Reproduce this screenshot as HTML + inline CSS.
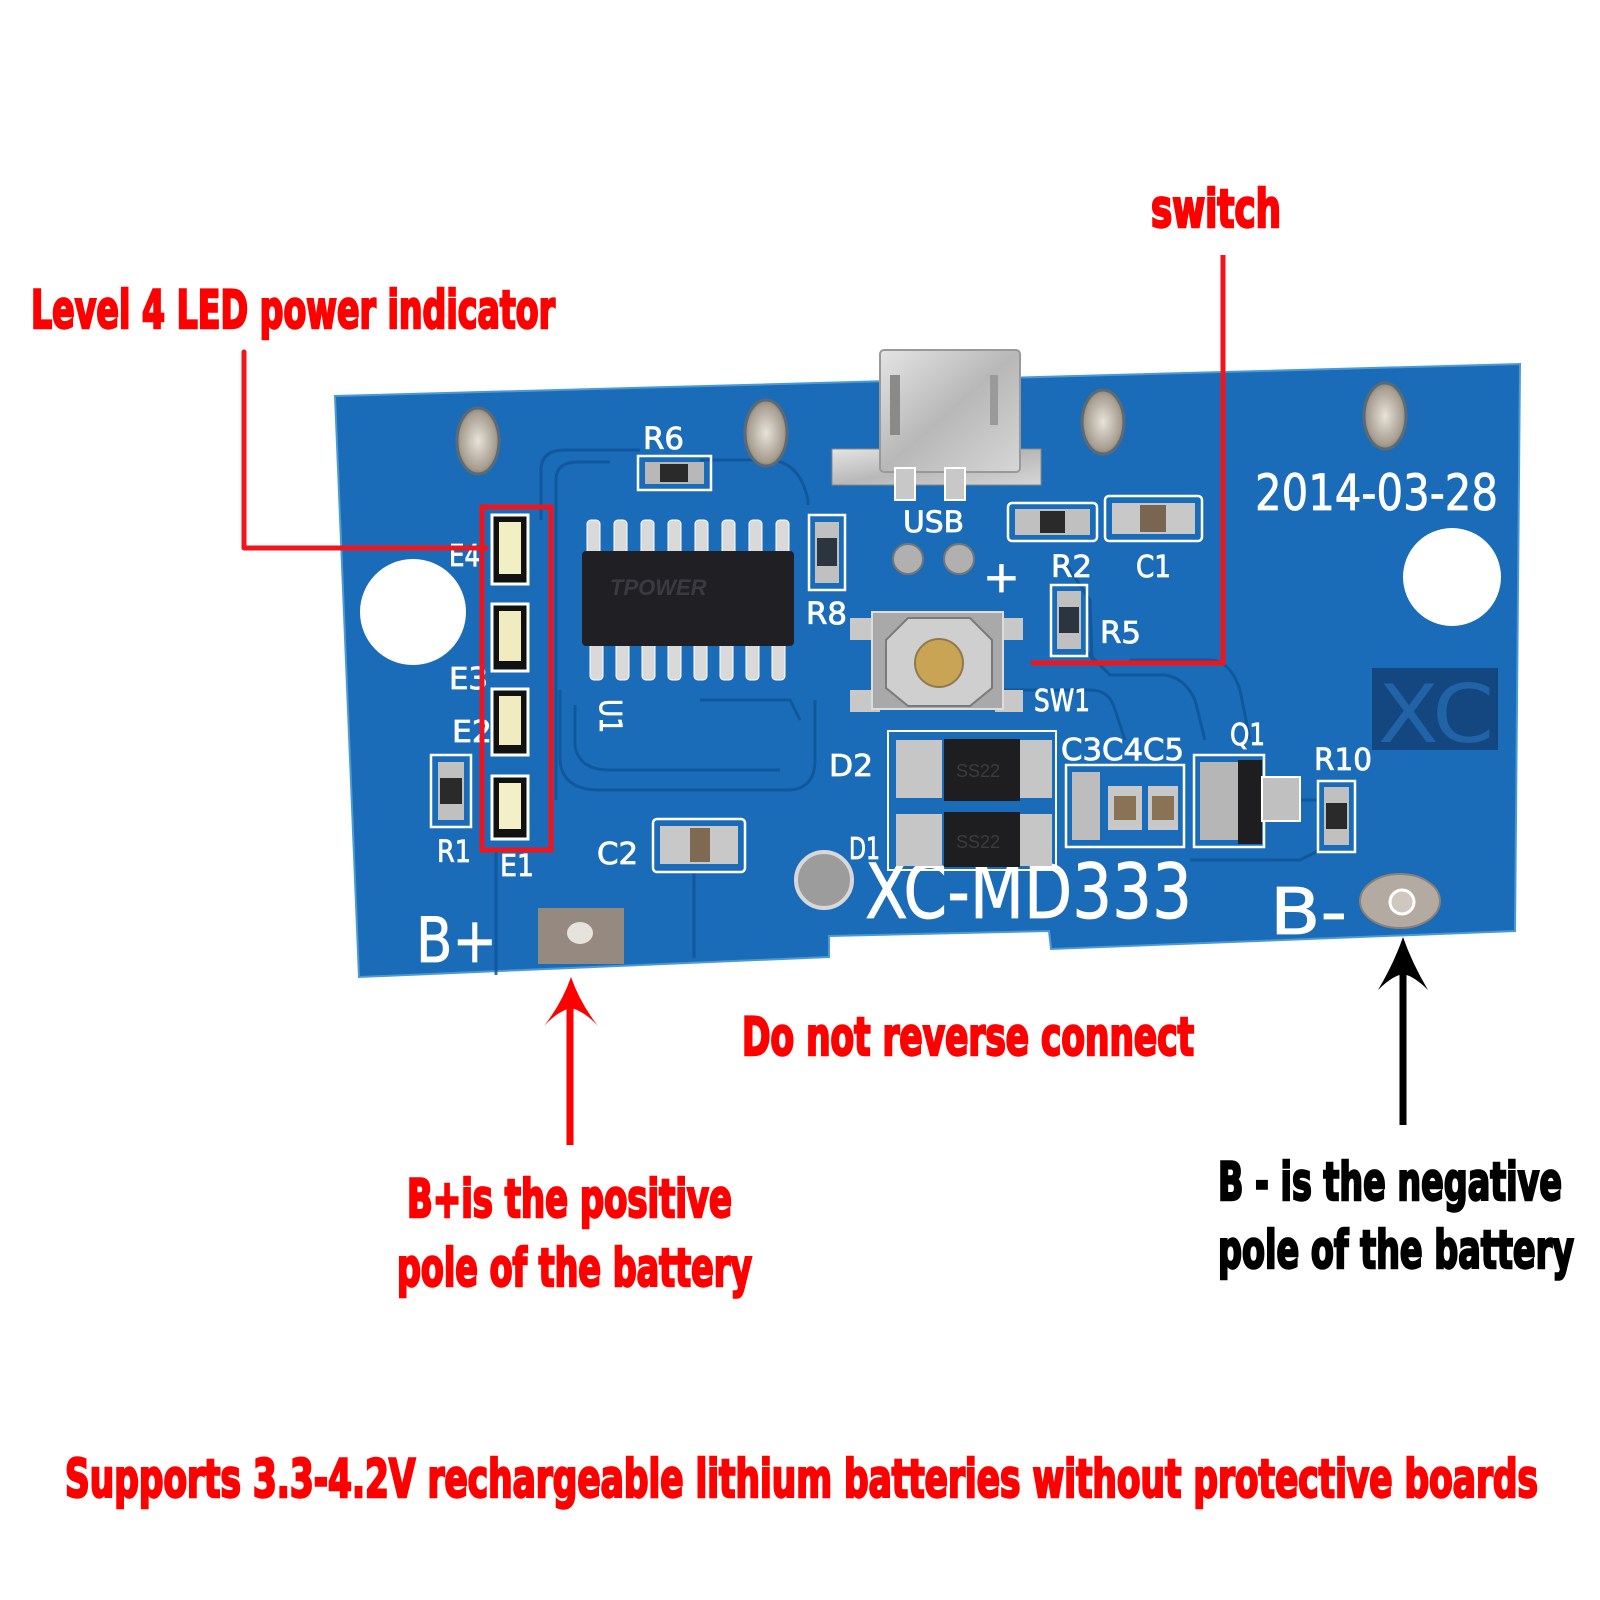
<!DOCTYPE html>
<html><head><meta charset="utf-8">
<style>
html,body{margin:0;padding:0;background:#fff;}
svg{display:block;}
.lab{font-family:"DejaVu Sans Condensed","DejaVu Sans","Liberation Sans",sans-serif;font-weight:bold;}
.silk{font-family:"DejaVu Sans","Liberation Sans",sans-serif;fill:#fff;stroke:#fff;stroke-width:0.8;}
</style></head><body>
<svg width="1600" height="1600" viewBox="0 0 1600 1600" xmlns="http://www.w3.org/2000/svg">
<defs>
  <linearGradient id="metal" x1="0" y1="0" x2="1" y2="1">
    <stop offset="0" stop-color="#e4e4e4"/><stop offset="0.5" stop-color="#b8b8b8"/><stop offset="1" stop-color="#d6d6d6"/>
  </linearGradient>
  <radialGradient id="pad" cx="0.5" cy="0.5" r="0.6">
    <stop offset="0" stop-color="#e8e2d8"/><stop offset="0.7" stop-color="#a89f92"/><stop offset="1" stop-color="#6e675e"/>
  </radialGradient>
</defs>
<rect width="1600" height="1600" fill="#fff"/>

<!-- Board -->
<path d="M335,396 L1520,364 L1515,931 L1051,949 L1049,931 L829,936 L829,957 L359,977 Z" fill="#1b6cb8" stroke="#4a9ad6" stroke-width="2"/>

<!-- traces -->
<g fill="none" stroke="#0f5598" stroke-width="3" opacity="0.85">
  <path d="M541,520 L541,470 Q541,450 565,450 L640,450"/>
  <path d="M556,800 L556,480 Q556,462 578,462 L610,462"/>
  <path d="M700,460 L770,460 Q800,462 808,500 L808,505"/>
  <path d="M560,690 L560,760 Q562,790 600,790 L790,790 Q815,788 815,760 L815,700"/>
  <path d="M575,705 L575,745 Q578,770 610,770 L780,770"/>
  <path d="M700,700 L790,700 L800,720"/>
  <path d="M496,850 L496,975"/>
  <path d="M694,872 L694,958"/>
  <path d="M1000,690 L1090,690 Q1110,690 1115,710 L1125,740"/>
  <path d="M1085,650 L1110,675 L1165,675 Q1185,678 1195,700 L1205,740"/>
  <path d="M1130,660 L1210,660 Q1230,660 1240,690 L1250,740"/>
  <path d="M1300,800 L1318,800"/>
  <path d="M1190,860 L1300,860 L1320,850"/>
  <path d="M1060,555 L1090,600 L1092,660"/>
</g>

<!-- mounting ovals -->
<g stroke="#5c6a75" stroke-width="3" fill="url(#pad)">
  <ellipse cx="478" cy="441" rx="21" ry="33"/>
  <ellipse cx="766" cy="433" rx="21" ry="33"/>
  <ellipse cx="1103" cy="422" rx="21" ry="32"/>
  <ellipse cx="1385" cy="416" rx="21" ry="33"/>
</g>

<!-- holes -->
<circle cx="413" cy="612" r="53" fill="#fff"/>
<circle cx="1452" cy="577" r="49" fill="#fff"/>
<circle cx="824" cy="880" r="28" fill="#9c9c9c" stroke="#d8d8d8" stroke-width="4"/>

<!-- USB connector -->
<rect x="832" y="449" width="209" height="36" fill="url(#metal)" stroke="#888" stroke-width="1"/>
<rect x="880" y="350" width="140" height="122" rx="4" fill="url(#metal)" stroke="#999" stroke-width="2"/>
<rect x="890" y="375" width="10" height="60" fill="#8a8a8a"/>
<rect x="990" y="375" width="8" height="50" fill="#9a9a9a"/>
<rect x="895" y="468" width="20" height="32" fill="#c8c8c8" stroke="#fff" stroke-width="2"/>
<rect x="945" y="468" width="20" height="32" fill="#c8c8c8" stroke="#fff" stroke-width="2"/>

<!-- silk labels -->
<g class="silk">
  <text x="643" y="449" font-size="30" textLength="41" lengthAdjust="spacingAndGlyphs">R6</text>
  <text x="903" y="532" font-size="29" textLength="61" lengthAdjust="spacingAndGlyphs">USB</text>
  <text x="806" y="624" font-size="30" textLength="41" lengthAdjust="spacingAndGlyphs">R8</text>
  <text x="449" y="566" font-size="30" textLength="31" lengthAdjust="spacingAndGlyphs">E4</text>
  <text x="449" y="689" font-size="30" textLength="39" lengthAdjust="spacingAndGlyphs">E3</text>
  <text x="452" y="742" font-size="30" textLength="40" lengthAdjust="spacingAndGlyphs">E2</text>
  <text x="500" y="876" font-size="30" textLength="34" lengthAdjust="spacingAndGlyphs">E1</text>
  <text x="437" y="862" font-size="30" textLength="34" lengthAdjust="spacingAndGlyphs">R1</text>
  <text x="597" y="864" font-size="30" textLength="41" lengthAdjust="spacingAndGlyphs">C2</text>
  <text x="0" y="0" font-size="30" textLength="34" lengthAdjust="spacingAndGlyphs" transform="translate(600,699) rotate(90)">U1</text>
  <text x="1051" y="577" font-size="30" textLength="41" lengthAdjust="spacingAndGlyphs">R2</text>
  <text x="1136" y="577" font-size="30" textLength="35" lengthAdjust="spacingAndGlyphs">C1</text>
  <text x="983" y="592" font-size="44">+</text>
  <text x="1100" y="643" font-size="30" textLength="41" lengthAdjust="spacingAndGlyphs">R5</text>
  <text x="1034" y="711" font-size="30" textLength="56" lengthAdjust="spacingAndGlyphs">SW1</text>
  <text x="829" y="776" font-size="30" textLength="44" lengthAdjust="spacingAndGlyphs">D2</text>
  <text x="849" y="859" font-size="30" textLength="31" lengthAdjust="spacingAndGlyphs">D1</text>
  <text x="1061" y="760" font-size="30" textLength="123" lengthAdjust="spacingAndGlyphs">C3C4C5</text>
  <text x="1230" y="745" font-size="30" textLength="35" lengthAdjust="spacingAndGlyphs">Q1</text>
  <text x="1314" y="770" font-size="30" textLength="58" lengthAdjust="spacingAndGlyphs">R10</text>
  <text x="1255" y="510" font-size="50" textLength="243" lengthAdjust="spacingAndGlyphs">2014-03-28</text>
  <text x="865" y="918" font-size="76" textLength="327" lengthAdjust="spacingAndGlyphs">XC-MD333</text>
  <text x="416" y="962" font-size="62" textLength="81" lengthAdjust="spacingAndGlyphs">B+</text>
  <text x="1270" y="934" font-size="64" textLength="77" lengthAdjust="spacingAndGlyphs">B-</text>
</g>

<!-- XC logo -->
<rect x="1372" y="668" width="126" height="82" fill="#14477f"/>
<text x="1378" y="742" font-family="DejaVu Sans, Liberation Sans, sans-serif" font-size="80" fill="#2063a6" textLength="116" lengthAdjust="spacingAndGlyphs">XC</text>

<!-- IC -->
<g fill="#d9d9d9" stroke="#fff" stroke-width="1">
  <rect x="587" y="520" width="13" height="36" rx="4"/>
  <rect x="614" y="520" width="13" height="36" rx="4"/>
  <rect x="641" y="520" width="13" height="36" rx="4"/>
  <rect x="668" y="520" width="13" height="36" rx="4"/>
  <rect x="695" y="520" width="13" height="36" rx="4"/>
  <rect x="722" y="520" width="13" height="36" rx="4"/>
  <rect x="749" y="520" width="13" height="36" rx="4"/>
  <rect x="776" y="520" width="13" height="36" rx="4"/>
  <rect x="590" y="640" width="13" height="40" rx="4"/>
  <rect x="616" y="640" width="13" height="40" rx="4"/>
  <rect x="642" y="640" width="13" height="40" rx="4"/>
  <rect x="668" y="640" width="13" height="40" rx="4"/>
  <rect x="694" y="640" width="13" height="40" rx="4"/>
  <rect x="720" y="640" width="13" height="40" rx="4"/>
  <rect x="746" y="640" width="13" height="40" rx="4"/>
  <rect x="772" y="640" width="13" height="40" rx="4"/>
</g>
<rect x="582" y="551" width="212" height="95" rx="4" fill="#202024"/>
<text x="610" y="595" font-family="Liberation Sans, sans-serif" font-style="italic" font-weight="bold" font-size="22" fill="#3a3a40">TPOWER</text>

<!-- R6 -->
<rect x="638" y="456" width="73" height="34" fill="none" stroke="#fff" stroke-width="2.5"/>
<rect x="645" y="462" width="59" height="22" fill="#b8b8b8"/>
<rect x="660" y="464" width="28" height="18" fill="#2a2a2a"/>
<!-- R8 -->
<rect x="809" y="515" width="36" height="75" fill="none" stroke="#fff" stroke-width="2.5"/>
<rect x="815" y="522" width="24" height="61" fill="#c0c0c0"/>
<rect x="817" y="538" width="20" height="28" fill="#2a3540"/>
<!-- R1 -->
<rect x="431" y="755" width="40" height="72" fill="none" stroke="#fff" stroke-width="2.5"/>
<rect x="438" y="762" width="26" height="58" fill="#c0c0c0"/>
<rect x="440" y="778" width="22" height="26" fill="#2a2a2a"/>

<!-- LEDs -->
<g>
  <rect x="492" y="515" width="36" height="69" fill="#111" stroke="#fff" stroke-width="3"/>
  <rect x="499" y="522" width="22" height="52" fill="#f3efc4"/>
  <rect x="492" y="604" width="36" height="67" fill="#111" stroke="#fff" stroke-width="3"/>
  <rect x="499" y="611" width="22" height="50" fill="#f1ecc0"/>
  <rect x="492" y="689" width="36" height="66" fill="#111" stroke="#fff" stroke-width="3"/>
  <rect x="499" y="696" width="22" height="49" fill="#f1ecc0"/>
  <rect x="492" y="776" width="36" height="63" fill="#111" stroke="#fff" stroke-width="3"/>
  <rect x="499" y="783" width="22" height="46" fill="#f3efc8"/>
</g>

<!-- C2 -->
<rect x="653" y="819" width="92" height="53" rx="4" fill="none" stroke="#fff" stroke-width="2.5"/>
<rect x="660" y="826" width="78" height="38" fill="#c8c8c8"/>
<rect x="690" y="828" width="20" height="34" fill="#7e6a52"/>

<!-- B+ pad -->
<rect x="538" y="908" width="86" height="56" fill="#968a80"/>
<ellipse cx="580" cy="933" rx="13" ry="11" fill="#e6e2dc"/>

<!-- B- pad -->
<ellipse cx="1400" cy="901" rx="40" ry="27" fill="#b3aaa1" stroke="#8b8178" stroke-width="2"/>
<circle cx="1402" cy="902" r="12" fill="#cfc8c0" stroke="#fff" stroke-width="3"/>

<!-- round pads near USB -->
<circle cx="908" cy="559" r="15" fill="#b0b0b0" stroke="#777" stroke-width="2"/>
<circle cx="959" cy="559" r="15" fill="#b0b0b0" stroke="#777" stroke-width="2"/>

<!-- R2 / C1 -->
<rect x="1008" y="503" width="89" height="38" rx="4" fill="none" stroke="#fff" stroke-width="2.5"/>
<rect x="1015" y="509" width="75" height="26" fill="#c0c0c0"/>
<rect x="1040" y="511" width="25" height="22" fill="#2a2a2a"/>
<rect x="1105" y="496" width="97" height="45" rx="4" fill="none" stroke="#fff" stroke-width="2.5"/>
<rect x="1112" y="503" width="83" height="31" fill="#c8c8c8"/>
<rect x="1140" y="505" width="26" height="27" fill="#7a6650"/>

<!-- R5 -->
<rect x="1051" y="585" width="36" height="71" fill="none" stroke="#fff" stroke-width="2.5"/>
<rect x="1057" y="591" width="24" height="58" fill="#c0c0c0"/>
<rect x="1059" y="607" width="20" height="26" fill="#2a3540"/>

<!-- SW1 -->
<rect x="850" y="618" width="30" height="22" fill="#c8c8c8"/>
<rect x="995" y="618" width="28" height="22" fill="#c8c8c8"/>
<rect x="850" y="690" width="30" height="22" fill="#c8c8c8"/>
<rect x="995" y="690" width="28" height="22" fill="#c8c8c8"/>
<rect x="872" y="612" width="131" height="97" fill="#a9a9a9" stroke="#ddd" stroke-width="2"/>
<path d="M908,618 L970,618 L992,640 L992,688 L970,706 L908,706 L886,688 L886,640 Z" fill="#cfcfcf" stroke="#7a7a7a" stroke-width="2"/>
<circle cx="939" cy="663" r="24" fill="#c9a455" stroke="#8d7a4f" stroke-width="2"/>

<!-- D2 / D1 -->
<rect x="888" y="731" width="168" height="139" fill="none" stroke="#fff" stroke-width="2"/>
<rect x="896" y="740" width="46" height="58" fill="#c6c6c6"/>
<rect x="1020" y="740" width="32" height="58" fill="#c6c6c6"/>
<rect x="944" y="739" width="76" height="62" fill="#1e1e20"/>
<rect x="896" y="814" width="46" height="52" fill="#c6c6c6"/>
<rect x="1020" y="814" width="32" height="52" fill="#c6c6c6"/>
<rect x="944" y="812" width="76" height="55" fill="#1e1e20"/>
<text x="956" y="777" font-family="Liberation Sans, sans-serif" font-size="18" fill="#3c3c3c">SS22</text>
<text x="956" y="848" font-family="Liberation Sans, sans-serif" font-size="18" fill="#3c3c3c">SS22</text>

<!-- C3C4C5 -->
<rect x="1066" y="765" width="118" height="82" fill="none" stroke="#fff" stroke-width="2.5"/>
<rect x="1072" y="772" width="28" height="68" fill="#bdbdbd"/>
<rect x="1108" y="786" width="34" height="44" fill="#c8c8c8"/>
<rect x="1114" y="796" width="22" height="24" fill="#8a7254"/>
<rect x="1148" y="786" width="30" height="44" fill="#c8c8c8"/>
<rect x="1152" y="796" width="22" height="24" fill="#8a7254"/>

<!-- Q1 -->
<rect x="1194" y="755" width="70" height="92" fill="none" stroke="#fff" stroke-width="2.5"/>
<rect x="1200" y="762" width="38" height="78" fill="#b6b6b6"/>
<rect x="1238" y="760" width="24" height="84" fill="#1e1e20"/>
<rect x="1262" y="777" width="38" height="44" fill="#c0c0c0" stroke="#fff" stroke-width="2"/>

<!-- R10 -->
<rect x="1318" y="781" width="37" height="71" fill="none" stroke="#fff" stroke-width="2.5"/>
<rect x="1324" y="787" width="25" height="58" fill="#c0c0c0"/>
<rect x="1326" y="803" width="21" height="26" fill="#2a2a2a"/>

<!-- red annotation frames / leaders -->
<rect x="482" y="507" width="69" height="343" fill="none" stroke="#f0141c" stroke-width="5"/>
<polyline points="244,352 244,548 486,548" fill="none" stroke="#f0141c" stroke-width="5" stroke-linejoin="round" stroke-linecap="round"/>
<polyline points="1223,255 1223,663 1031,663" fill="none" stroke="#f0141c" stroke-width="5"/>

<!-- arrows -->
<line x1="570" y1="1145" x2="570" y2="1000" stroke="#f00" stroke-width="7"/>
<path d="M571,977 Q580,1003 598,1026 Q584,1011 571,1008 Q558,1011 544,1026 Q562,1003 571,977 Z" fill="#f00"/>
<line x1="1403" y1="1125" x2="1403" y2="960" stroke="#000" stroke-width="7"/>
<path d="M1403,937 Q1412,963 1428,990 Q1414,976 1403,974 Q1392,976 1378,990 Q1394,963 1403,937 Z" fill="#000"/>

<!-- annotation text -->
<g class="lab">
  <text x="1151" y="227" font-size="53" fill="#f00" stroke="#f00" stroke-width="2.4" textLength="130" lengthAdjust="spacingAndGlyphs">switch</text>
  <text x="31" y="328" font-size="53" fill="#f00" stroke="#f00" stroke-width="2.4" textLength="524" lengthAdjust="spacingAndGlyphs">Level 4 LED power indicator</text>
  <text x="742" y="1055" font-size="53" fill="#f00" stroke="#f00" stroke-width="2.4" textLength="452" lengthAdjust="spacingAndGlyphs">Do not reverse connect</text>
  <text x="407" y="1217" font-size="53" fill="#f00" stroke="#f00" stroke-width="2.4" textLength="325" lengthAdjust="spacingAndGlyphs">B+is the positive</text>
  <text x="397" y="1286" font-size="53" fill="#f00" stroke="#f00" stroke-width="2.4" textLength="355" lengthAdjust="spacingAndGlyphs">pole of the battery</text>
  <text x="1218" y="1200" font-size="53" fill="#000" stroke="#000" stroke-width="2.4" textLength="344" lengthAdjust="spacingAndGlyphs">B - is the negative</text>
  <text x="1218" y="1268" font-size="53" fill="#000" stroke="#000" stroke-width="2.4" textLength="356" lengthAdjust="spacingAndGlyphs">pole of the battery</text>
  <text x="65" y="1497" font-size="53" fill="#f00" stroke="#f00" stroke-width="2.4" textLength="1473" lengthAdjust="spacingAndGlyphs">Supports 3.3-4.2V rechargeable lithium batteries without protective boards</text>
</g>
</svg>
</body></html>
